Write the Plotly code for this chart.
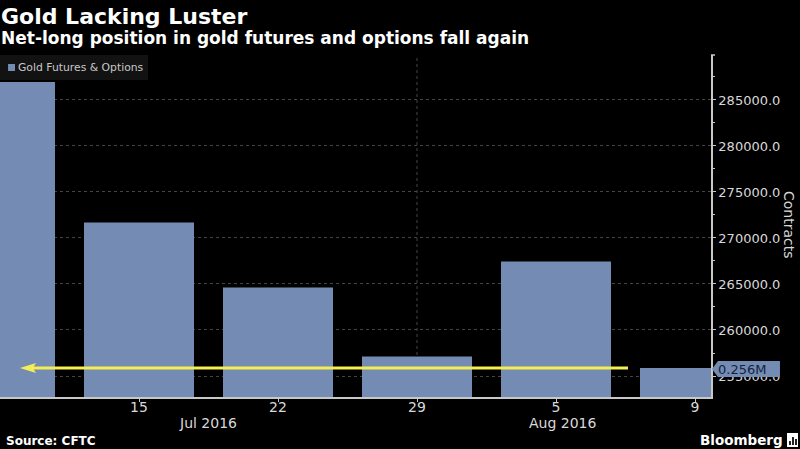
import plotly.graph_objects as go

# values
dates = ["8", "15", "22", "29", "5", "9"]
contracts = [286950, 271680, 264620, 257120, 267450, 255870]
y_ticks = [255000, 260000, 265000, 270000, 275000, 280000, 285000]
y_tick_labels = ["255000.0", "260000.0", "265000.0", "270000.0", "275000.0", "280000.0", "285000.0"]
month_labels = ["Jul 2016", "Aug 2016"]
series_name = "Gold Futures & Options"
last_label = "0.256M"

BAR = "#748bb3"
GREY = "#c8c8c8"
FONT = "DejaVu Sans"
L, R, T, B = 0, 711, 55, 397


# pixel helpers for the decorations around the plot area
def px(x):
    return (x - L) / (R - L)


def py(y):
    return (B - y) / (B - T)


def poly(points):
    return "M " + " L ".join(f"{px(x):.4f} {py(y):.4f}" for x, y in points) + " Z"


def patch(points, color):
    fig.add_shape(type="path", xref="paper", yref="paper", path=poly(points), fillcolor=color, line_width=0)


def label(text, x, y, size, color="white", anchor="left"):
    fig.add_annotation(text=text, xref="paper", yref="paper", x=px(x), y=py(y), xanchor=anchor,
                       yanchor="middle", showarrow=False, font=dict(size=size, color=color))


fig = go.Figure()
fig.add_trace(go.Bar(x=dates, y=contracts, name=series_name,
                     marker=dict(color=BAR, line=dict(width=0)), width=110 / 139,
                     showlegend=False))

fig.update_layout(
    width=800, height=449,
    margin=dict(l=L, r=800 - R, t=T, b=449 - B),
    paper_bgcolor="black", plot_bgcolor="black",
    font=dict(family=FONT, color="#d8d8d8", size=13),
    showlegend=False,
)
fig.update_xaxes(type="category", categoryorder="array", categoryarray=dates,
                 range=[0, 711 / 139], tickvals=dates[1:], ticktext=dates[1:], tickfont=dict(size=14),
                 ticks="outside", ticklen=3, tickcolor=GREY, showgrid=False, ticklabelstandoff=-7,
                 showline=True, linecolor=GREY, linewidth=1.5, zeroline=False)
fig.update_yaxes(side="right", range=[252717, 289890], tickvals=y_ticks, ticktext=y_tick_labels,
                 ticks="outside", ticklen=3, tickcolor=GREY, showgrid=True,
                 gridcolor="#444444", griddash="dot", gridwidth=1,
                 showline=True, linecolor=GREY, linewidth=1.5, zeroline=False,
                 minor=dict(dtick=2500, tick0=252500, ticks="outside", ticklen=2,
                            tickcolor=GREY, showgrid=False))

# dotted month divider
fig.add_shape(type="line", xref="x", yref="paper", x0=3, x1=3, y0=0, y1=1,
              line=dict(color="#444444", width=1, dash="dot"), layer="below")
# cap on top of the value axis
fig.add_shape(type="line", xref="paper", yref="paper", x0=px(711), x1=px(715), y0=1, y1=1,
              line=dict(color=GREY, width=1.5))

# titles, months, source
label("<b>Gold Lacking Luster</b>", -1, 16, 22)
label("<b>Net-long position in gold futures and options fall again</b>", -1, 38, 17)
label(month_labels[0], 208, 423, 14, "#d8d8d8", "center")
label(month_labels[1], 563, 423, 14, "#d8d8d8", "center")
label("<b>Source: CFTC</b>", 4, 441, 12)

# legend box
patch([(0, 55), (148, 55), (148, 80), (0, 80)], "#121212")
patch([(8, 64), (15, 64), (15, 71), (8, 71)], BAR)
label(series_name, 16, 68, 10.8, "#c8c8c8")

# title of the value axis
fig.add_annotation(text="Contracts", xref="paper", yref="paper", x=px(789), y=py(225), textangle=90,
                   xanchor="center", yanchor="middle", showarrow=False, font=dict(size=14, color="#d8d8d8"))

# yellow arrow
patch([(20, 368), (36, 363), (33, 368), (36, 373)], "#f4ee55")
fig.add_shape(type="line", xref="paper", yref="paper", x0=px(33), x1=px(628), y0=py(368), y1=py(368),
              line=dict(color="#f4ee55", width=3))

# last value tag
patch([(712, 369), (718, 361), (780, 361), (780, 377), (718, 377)], BAR)
label(last_label, 716, 369, 13, "#14233d")

# Bloomberg mark
label("<b>Bloomberg</b>", 698, 440, 13.5)
patch([(787, 433), (798, 433), (798, 447), (787, 447)], "white")
for x0, top in [(789, 441), (792, 437), (795, 439)]:
    patch([(x0, top), (x0 + 2, top), (x0 + 2, 445), (x0, 445)], "#222222")

fig.write_html("out.html", config=dict(displayModeBar=False),
               post_script="document.body.style.margin='0';document.body.style.background='black';")
